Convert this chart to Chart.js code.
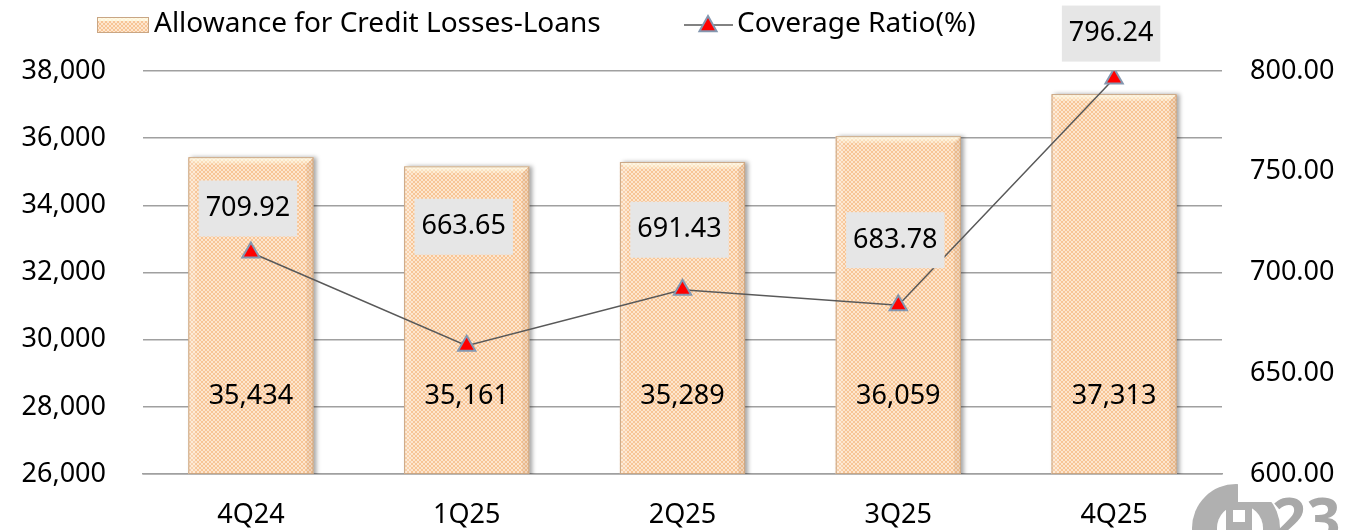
<!DOCTYPE html>
<html>
<head>
<meta charset="utf-8">
<script src="https://cdn.jsdelivr.net/npm/chart.js@4.4.1/dist/chart.umd.min.js"></script>
<style>
  html, body { margin: 0; padding: 0; background: #fff; }
  #wrap { width: 1348px; height: 530px; position: relative; }
</style>
</head>
<body>
<div id="wrap"><canvas id="chart" width="1348" height="530"></canvas></div>
<script>
// Chart data
const quarters = ['4Q24', '1Q25', '2Q25', '3Q25', '4Q25'];
const allowanceLoans = [35434, 35161, 35289, 36059, 37313];
const coverageRatio = [709.92, 663.65, 691.43, 683.78, 796.24];
const leftTicks = [26000, 28000, 30000, 32000, 34000, 36000, 38000];
const rightTicks = [600, 650, 700, 750, 800];

// how far above each point the ratio label sits (px)
const ratioLabelLift = [44, 119, 60, 65, 45];

const FONT = '"Noto Sans", "DejaVu Sans", sans-serif';

// Diamond lattice fill like the excel bars
function makePattern() {
    const c = document.createElement('canvas');
    c.width = 4; c.height = 4;
    const g = c.getContext('2d');
    g.fillStyle = '#fde6cf';
    g.fillRect(0, 0, 4, 4);
    for (let x = 0; x < 4; x++) {
        for (let y = 0; y < 4; y++) {
            if (x === y || x + y === 3) {
                g.fillStyle = '#f7c596';
                g.fillRect(x, y, 1, 1);
            }
        }
    }
    return g.createPattern(c, 'repeat');
}
const barPattern = makePattern();

// Drop shadow + bevel for bars
const barLook = {
    id: 'barLook',
    beforeDatasetDraw(chart, args) {
        if (args.index !== 1) return;
        const ctx = chart.ctx;
        ctx.save();
        ctx.shadowColor = 'rgba(0,0,0,0.35)';
        ctx.shadowBlur = 4;
        ctx.shadowOffsetX = 3;
        ctx.shadowOffsetY = 0;
    },
    afterDatasetDraw(chart, args) {
        if (args.index !== 1) return;
        const ctx = chart.ctx;
        ctx.restore();
        const area = chart.chartArea;
        const meta = chart.getDatasetMeta(1);
        meta.data.forEach(bar => {
            const l = bar.x - bar.width / 2, r = bar.x + bar.width / 2;
            const t = bar.y, b = Math.min(bar.base, area.bottom), d = 7;
            ctx.save();
            // top bevel
            let gr = ctx.createLinearGradient(0, t, 0, t + d);
            gr.addColorStop(0, 'rgba(255,255,240,0.95)');
            gr.addColorStop(1, 'rgba(255,250,225,0.2)');
            ctx.fillStyle = gr;
            ctx.beginPath();
            ctx.moveTo(l, t); ctx.lineTo(r, t); ctx.lineTo(r - d, t + d); ctx.lineTo(l + d, t + d);
            ctx.closePath(); ctx.fill();
            // left bevel
            ctx.fillStyle = 'rgba(255,255,255,0.2)';
            ctx.beginPath();
            ctx.moveTo(l, t); ctx.lineTo(l + d, t + d); ctx.lineTo(l + d, b); ctx.lineTo(l, b);
            ctx.closePath(); ctx.fill();
            // right bevel
            ctx.fillStyle = 'rgba(170,120,80,0.15)';
            ctx.beginPath();
            ctx.moveTo(r, t); ctx.lineTo(r - d, t + d); ctx.lineTo(r - d, b); ctx.lineTo(r, b);
            ctx.closePath(); ctx.fill();
            ctx.strokeStyle = '#c9a684';
            ctx.lineWidth = 1;
            ctx.strokeRect(l + 0.5, t + 0.5, bar.width - 1, b - t - 1);
            ctx.restore();
        });
    }
};

// Faded logo in the corner, behind the axis labels
const cornerLogo = {
    id: 'cornerLogo',
    beforeDraw(chart) {
        const ctx = chart.ctx;
        ctx.save();
        ctx.fillStyle = '#b0b0b0';
        ctx.beginPath();
        ctx.arc(1236, 528, 44, Math.PI, Math.PI * 2);
        ctx.lineTo(1280, 530);
        ctx.lineTo(1192, 530);
        ctx.closePath();
        ctx.fill();
        ctx.fillStyle = '#fff';
        ctx.beginPath();
        ctx.arc(1240, 528, 23, Math.PI, Math.PI * 2);
        ctx.lineTo(1263, 530);
        ctx.lineTo(1217, 530);
        ctx.closePath();
        ctx.fill();
        ctx.fillRect(1238, 480, 50, 22);
        ctx.fillStyle = '#b0b0b0';
        ctx.fillRect(1226, 503, 26, 27);
        ctx.fillStyle = '#fff';
        ctx.fillRect(1233, 510, 12, 12);
        ctx.fillStyle = '#a8a8a8';
        ctx.font = 'bold 60px ' + FONT;
        ctx.textBaseline = 'alphabetic';
        ctx.fillText('23', 1272, 540);
        ctx.restore();
    }
};

// Value labels and legend
const extras = {
    id: 'extras',
    afterDraw(chart) {
        const ctx = chart.ctx;
        const area = chart.chartArea;
        ctx.save();
        ctx.font = '27px ' + FONT;
        ctx.textAlign = 'center';
        ctx.textBaseline = 'middle';

        // bar values, inside base
        chart.getDatasetMeta(1).data.forEach((bar, i) => {
            ctx.fillStyle = '#000';
            ctx.fillText(allowanceLoans[i].toLocaleString('en-US'), bar.x, area.bottom - 78);
        });

        // ratio labels with grey box
        chart.getDatasetMeta(0).data.forEach((pt, i) => {
            const txt = coverageRatio[i].toFixed(2);
            const w = ctx.measureText(txt).width + 14;
            const h = 56;
            const cy = pt.y - ratioLabelLift[i];
            const cx = pt.x - 3;
            ctx.fillStyle = '#e6e6e6';
            ctx.fillRect(cx - w / 2, cy - h / 2, w, h);
            ctx.fillStyle = '#000';
            ctx.fillText(txt, cx, cy);
        });

        // legend
        ctx.textAlign = 'left';
        ctx.font = '28px ' + FONT;
        ctx.fillStyle = barPattern;
        ctx.fillRect(97, 17, 52, 16);
        ctx.fillStyle = 'rgba(255,255,235,0.8)';
        ctx.fillRect(97, 17, 52, 4);
        ctx.strokeStyle = '#c9a684';
        ctx.strokeRect(97.5, 17.5, 51, 15);
        ctx.fillStyle = '#000';
        ctx.fillText('Allowance for Credit Losses-Loans', 154, 24);

        ctx.strokeStyle = '#595959';
        ctx.lineWidth = 1.5;
        ctx.beginPath();
        ctx.moveTo(684, 25); ctx.lineTo(733, 25); ctx.stroke();
        drawTri(ctx, 708, 25, 9);
        ctx.fillStyle = '#000';
        ctx.fillText('Coverage Ratio(%)', 737, 24);
        ctx.restore();
    }
};

function drawTri(ctx, x, y, r) {
    ctx.save();
    ctx.beginPath();
    ctx.moveTo(x, y - r);
    ctx.lineTo(x + r * 0.95, y + r * 0.7);
    ctx.lineTo(x - r * 0.95, y + r * 0.7);
    ctx.closePath();
    ctx.fillStyle = '#ff0000';
    ctx.fill();
    ctx.strokeStyle = '#8497b0';
    ctx.lineWidth = 2;
    ctx.stroke();
    ctx.restore();
}

new Chart(document.getElementById('chart'), {
    data: {
        labels: quarters,
        datasets: [
            {
                type: 'line',
                label: 'Coverage Ratio(%)',
                data: coverageRatio,
                yAxisID: 'y1',
                order: 0,
                borderColor: '#595959',
                borderWidth: 1.5,
                pointStyle: 'triangle',
                pointRadius: 10,
                pointBackgroundColor: '#ff0000',
                pointBorderColor: '#8497b0',
                pointBorderWidth: 2,
                tension: 0
            },
            {
                type: 'bar',
                label: 'Allowance for Credit Losses-Loans',
                data: allowanceLoans,
                yAxisID: 'y',
                order: 1,
                backgroundColor: barPattern,
                borderWidth: 0,
                categoryPercentage: 1,
                barPercentage: 0.58
            }
        ]
    },
    options: {
        responsive: false,
        animation: false,
        layout: { padding: { top: 71, left: 0, right: 0, bottom: 0 } },
        plugins: {
            legend: { display: false },
            tooltip: { enabled: false }
        },
        scales: {
            x: {
                grid: { display: false, drawTicks: false },
                border: { display: true, color: '#a0a0a0', width: 1.5 },
                ticks: { color: '#000', font: { size: 27, family: FONT }, padding: 25 },
                afterFit(scale) { scale.height = 56; }
            },
            y: {
                position: 'left',
                min: 26000,
                max: 38000,
                afterBuildTicks(scale) { scale.ticks = leftTicks.map(v => ({ value: v })); },
                grid: { color: '#a0a0a0', lineWidth: 1.5, drawTicks: false },
                border: { display: false },
                ticks: {
                    color: '#000',
                    font: { size: 27, family: FONT },
                    padding: 37,
                    callback: v => v.toLocaleString('en-US')
                },
                afterFit(scale) { scale.width = 143; }
            },
            y1: {
                position: 'right',
                min: 600,
                max: 800,
                afterBuildTicks(scale) { scale.ticks = rightTicks.map(v => ({ value: v })); },
                grid: { display: false, drawTicks: false },
                border: { display: false },
                ticks: {
                    color: '#000',
                    font: { size: 27, family: FONT },
                    padding: 28,
                    callback: v => Number(v).toFixed(2)
                },
                afterFit(scale) { scale.width = 126; }
            }
        }
    },
    plugins: [cornerLogo, barLook, extras]
});
</script>
</body>
</html>
